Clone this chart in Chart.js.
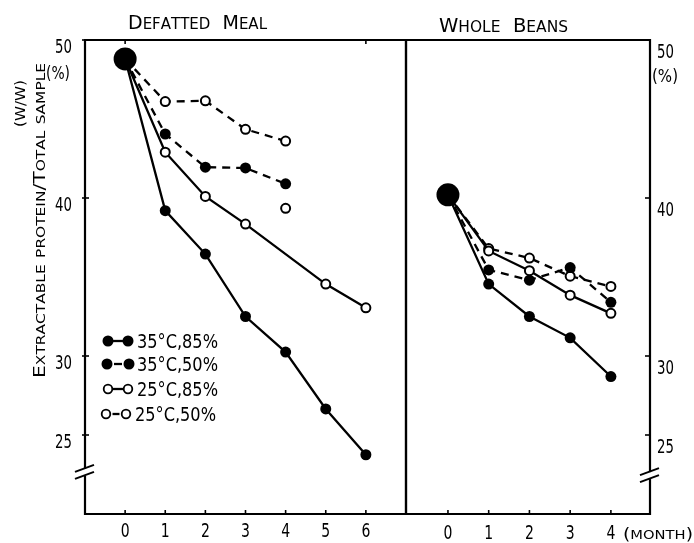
<!DOCTYPE html>
<html><head><meta charset="utf-8">
<script src="https://cdn.jsdelivr.net/npm/chart.js@4.4.1/dist/chart.umd.min.js"></script>
<style>
html,body{margin:0;padding:0;background:#fff;}
#wrap{position:relative;width:694px;height:543px;overflow:hidden;}
canvas{position:absolute;left:0;top:0;}
</style>
</head><body>
<div id="wrap"><canvas id="c1" width="694" height="543"></canvas><canvas id="c2" width="694" height="543"></canvas></div>
<script>
// ---- data ----
const mealMonths = [0, 1, 2, 3, 4, 5, 6];
const meal35_85 = [48.8, 39.2, 36.45, 32.5, 30.25, 26.65, 23.75];
const meal35_50Months = [0, 1, 2, 3, 4];
const meal35_50 = [48.8, 44.05, 41.95, 41.9, 40.9];
const meal25_85Months = [0, 1, 2, 3, 5, 6];
const meal25_85 = [48.8, 42.9, 40.1, 38.35, 34.55, 33.05];
const meal25_85LoneMonth = [4];
const meal25_85Lone = [39.35];
const meal25_50Months = [0, 1, 2, 3, 4];
const meal25_50 = [48.8, 46.1, 46.15, 44.35, 43.6];

const beanMonths = [0, 1, 2, 3, 4];
const bean35_85 = [40.2, 34.55, 32.5, 31.15, 28.7];
const bean35_50 = [40.2, 35.45, 34.8, 35.6, 33.4];
const bean25_85 = [40.2, 36.65, 35.4, 33.85, 32.7];
const bean25_50 = [40.2, 36.8, 36.2, 35.05, 34.4];

const yTickValues = [25, 30, 40, 50];
const mealTicks = [0, 1, 2, 3, 4, 5, 6];
const beanTicks = [0, 1, 2, 3, 4];
const legendLabels = ['35°C,85%', '35°C,50%', '25°C,85%', '25°C,50%'];
const panelTitles = ['Defatted  Meal', 'Whole  Beans'];
const yTitle = 'Extractable protein/Total sample';
const xUnit = '(month)';

// ---- helpers ----
const FONT = '"DejaVu Sans", sans-serif';
function pts(xs, ys) { return xs.map((x, i) => ({ x: x, y: ys[i] })); }

function txt(ctx, s, x, cy, size, sx, align) {
  ctx.save();
  ctx.font = size + 'px ' + FONT;
  ctx.textBaseline = 'alphabetic';
  ctx.textAlign = 'left';
  const w = ctx.measureText(s).width * sx;
  const x0 = align === 'center' ? x - w / 2 : (align === 'right' ? x - w : x);
  ctx.translate(x0, cy + size * 0.365);
  ctx.scale(sx, 1);
  ctx.fillText(s, 0, 0);
  ctx.restore();
}
// small caps text fitted to a target width, starting at current origin, baseline 0
function sc(ctx, s, big, small, target) {
  const parts = [...s].map(ch => {
    const low = ch >= 'a' && ch <= 'z';
    return { c: low ? ch.toUpperCase() : ch, size: low ? small : big };
  });
  let w = 0;
  parts.forEach(p => { ctx.font = p.size + 'px ' + FONT; p.w = ctx.measureText(p.c).width; w += p.w; });
  ctx.save();
  ctx.scale(target / w, 1);
  ctx.textBaseline = 'alphabetic'; ctx.textAlign = 'left';
  let cx = 0;
  parts.forEach(p => { ctx.font = p.size + 'px ' + FONT; ctx.fillText(p.c, cx, 0); cx += p.w; });
  ctx.restore();
}
function line(ctx, x1, y1, x2, y2) { ctx.beginPath(); ctx.moveTo(x1, y1); ctx.lineTo(x2, y2); ctx.stroke(); }

function series(data, filled, dashed) {
  return {
    data: data, showLine: true, borderColor: '#000', borderWidth: 2.3,
    borderDash: dashed ? [8, 6] : [], tension: 0, clip: false,
    pointRadius: filled ? 5.5 : 4.5, pointBackgroundColor: filled ? '#000' : '#fff',
    pointBorderColor: '#000', pointBorderWidth: filled ? 0 : 2
  };
}
function startDot(v) {
  return { data: [{ x: 0, y: v }], showLine: false, clip: false, pointRadius: 11.5,
    pointBackgroundColor: '#000', pointBorderColor: '#000', pointBorderWidth: 0 };
}

function drawLegend(ctx) {
  const rows = [341, 364, 389, 414];
  const filled = [true, true, false, false];
  const dots = [[108, 128], [107, 129], [108, 128], [106, 126]];
  const segs = [[108, 128], [114, 122], [108, 128], [112.5, 119.5]];
  rows.forEach((y, i) => {
    ctx.save();
    ctx.strokeStyle = '#000'; ctx.lineWidth = 2.3;
    line(ctx, segs[i][0], y, segs[i][1], y);
    dots[i].forEach(cx => {
      ctx.beginPath();
      if (filled[i]) { ctx.arc(cx, y, 5.5, 0, Math.PI * 2); ctx.fillStyle = '#000'; ctx.fill(); }
      else { ctx.arc(cx, y, 4.3, 0, Math.PI * 2); ctx.fillStyle = '#fff'; ctx.fill(); ctx.lineWidth = 1.8; ctx.stroke(); }
    });
    ctx.fillStyle = '#000';
    ctx.font = '20px ' + FONT;
    const w = ctx.measureText(legendLabels[i]).width;
    ctx.translate(i === 3 ? 135 : 137, y + 7);
    ctx.scale(81 / w, 1);
    ctx.textBaseline = 'alphabetic';
    ctx.fillText(legendLabels[i], 0, 0);
    ctx.restore();
  });
}

function leftExtra(ctx) {
  ctx.fillStyle = '#000';
  ctx.save(); ctx.translate(128, 29); sc(ctx, panelTitles[0], 19, 15, 139); ctx.restore();
  ctx.save(); ctx.translate(45, 378); ctx.rotate(-Math.PI / 2); sc(ctx, yTitle, 16.5, 12.5, 315); ctx.restore();
  ctx.save(); ctx.translate(25, 127); ctx.rotate(-Math.PI / 2); sc(ctx, '(W/W)', 14, 14, 47); ctx.restore();
  ctx.save(); ctx.translate(46, 79); sc(ctx, '(%)', 18, 18, 24); ctx.restore();
  drawLegend(ctx);
}
function rightExtra(ctx) {
  ctx.fillStyle = '#000';
  ctx.save(); ctx.translate(439, 32); sc(ctx, panelTitles[1], 19, 15, 129); ctx.restore();
  ctx.save(); ctx.translate(623, 539); sc(ctx, xUnit, 16, 12.5, 70); ctx.restore();
  ctx.save(); ctx.translate(652, 82); sc(ctx, '(%)', 18, 18, 26); ctx.restore();
}

// per-canvas frame settings (kept outside Chart options so functions are not resolved as scriptable)
const frameCfg = {
  c1: { side: 'left', xTicks: mealTicks, topTicks: [0, 6], breakValue: 22.6,
        xLabelY: 530, yLabelX: 72, yLabelOffset: 6, yLabelAlign: 'right', extra: leftExtra },
  c2: { side: 'right', xTicks: beanTicks, topTicks: [], breakValue: 22.4,
        xLabelY: 532, yLabelX: 657, yLabelOffset: 11, yLabelAlign: 'left', extra: rightExtra }
};

const framePlugin = {
  id: 'frame',
  afterDraw(chart) {
    const o = frameCfg[chart.canvas.id];
    const ctx = chart.ctx, a = chart.chartArea, xs = chart.scales.x, ys = chart.scales.y;
    ctx.save();
    ctx.strokeStyle = '#000'; ctx.fillStyle = '#000'; ctx.lineCap = 'square';
    ctx.lineWidth = 2.2;
    ctx.beginPath();
    ctx.moveTo(a.left, a.top); ctx.lineTo(a.right, a.top); ctx.lineTo(a.right, a.bottom);
    ctx.lineTo(a.left, a.bottom); ctx.closePath(); ctx.stroke();
    ctx.lineWidth = 1.6; ctx.lineCap = 'butt';
    o.xTicks.forEach(v => { const px = xs.getPixelForValue(v); line(ctx, px, a.bottom, px, a.bottom - 4); });
    o.topTicks.forEach(v => { const px = xs.getPixelForValue(v); line(ctx, px, a.top, px, a.top + 4); });
    const axX = o.side === 'left' ? a.left : a.right;
    yTickValues.forEach(v => {
      const py = ys.getPixelForValue(v);
      if (o.side === 'left') line(ctx, axX - 3, py, axX + 4, py); else line(ctx, axX - 5, py, axX + 1, py);
    });
    // axis break
    const by = ys.getPixelForValue(o.breakValue);
    ctx.fillStyle = '#fff'; ctx.fillRect(axX - 3, by - 4, 6, 7);
    ctx.fillStyle = '#000'; ctx.lineWidth = 2;
    line(ctx, axX - 10, by - 1, axX + 9, by - 8);
    line(ctx, axX - 10, by + 6, axX + 9, by - 1);
    // tick labels
    o.xTicks.forEach(v => txt(ctx, String(v), xs.getPixelForValue(v), o.xLabelY, 20, 0.7, 'center'));
    yTickValues.forEach(v => txt(ctx, String(v), o.yLabelX, ys.getPixelForValue(v) + o.yLabelOffset, 19, 0.7, o.yLabelAlign));
    o.extra(ctx);
    ctx.restore();
  }
};

function makeChart(id, datasets, xMin, xMax, pad, side, yWidth) {
  return new Chart(document.getElementById(id), {
    type: 'scatter',
    data: { datasets: datasets },
    options: {
      responsive: false, animation: false, events: [], devicePixelRatio: 1,
      layout: { padding: pad },
      plugins: { legend: { display: false }, tooltip: { enabled: false } },
      scales: {
        x: { type: 'linear', min: xMin, max: xMax, grid: { display: false }, border: { display: false },
             ticks: { display: false }, afterFit(s) { s.height = 29; } },
        y: { type: 'linear', position: side, min: 20, max: 50, grid: { display: false }, border: { display: false },
             ticks: { display: false }, afterFit(s) { s.width = yWidth; } }
      }
    },
    plugins: [framePlugin]
  });
}

makeChart('c1', [
  startDot(meal35_85[0]),
  series(pts(mealMonths, meal35_85), true, false),
  series(pts(meal35_50Months, meal35_50), true, true),
  series(pts(meal25_85Months, meal25_85), false, false),
  Object.assign(series(pts(meal25_85LoneMonth, meal25_85Lone), false, false), { showLine: false }),
  series(pts(meal25_50Months, meal25_50), false, true)
], -1, 7, { left: 0, top: 40, right: 288, bottom: 0 }, 'left', 85);

makeChart('c2', [
  startDot(bean35_85[0]),
  series(pts(beanMonths, bean35_85), true, false),
  series(pts(beanMonths, bean35_50), true, true),
  series(pts(beanMonths, bean25_85), false, false),
  series(pts(beanMonths, bean25_50), false, true)
], -1.03, 4.96, { left: 406, top: 40, right: 0, bottom: 0 }, 'right', 44);
</script>
</body></html>
